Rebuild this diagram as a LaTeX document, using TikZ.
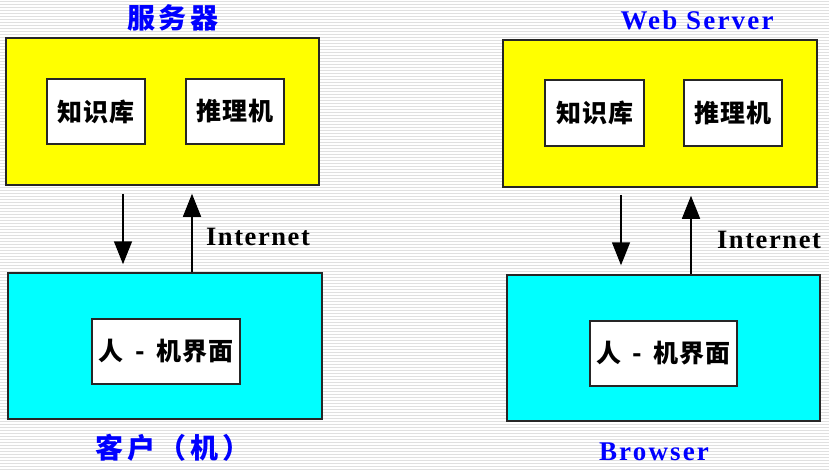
\documentclass[tikz,border=0pt]{standalone}
\usepackage{fontspec}
\setmainfont{Liberation Serif}
\newfontfamily\cjk{Noto Sans CJK SC}
\usetikzlibrary{arrows.meta}
\definecolor{tblue}{RGB}{0,0,255}
\definecolor{tyellow}{RGB}{255,255,0}
\definecolor{tcyan}{RGB}{0,255,255}
\begin{document}
\begin{tikzpicture}[x=1pt,y=-1pt,
  frame/.style={draw=black!85, line width=1.5pt, inner sep=0pt},
  ybox/.style={frame, fill=tyellow},
  cbox/.style={frame, fill=tcyan},
  wbox/.style={frame, fill=white, font=\cjk\bfseries\fontsize{25}{25}\selectfont\addfontfeature{LetterSpace=4}},
  arr/.style={line width=1.5pt, -{Triangle[length=23pt,width=18pt]}},
  cjktitle/.style={text=tblue, font=\cjk\bfseries\fontsize{28}{28}\selectfont\addfontfeature{LetterSpace=14}},
  entitle/.style={text=tblue, font=\bfseries\fontsize{27}{27}\selectfont\addfontfeature{LetterSpace=8}},
  netlabel/.style={text=black, font=\bfseries\fontsize{26.5}{26.5}\selectfont\addfontfeature{LetterSpace=6}}
]
\useasboundingbox (0,0) rectangle (829,469);
\fill[white] (0,0) rectangle (829,469);
\foreach \i in {1,4,...,469} \draw[black!12, line width=1pt] (0,\i) -- (829,\i);

% left: client/server
\node[ybox, minimum width=313pt, minimum height=147pt] (Y1) at (162.5,111.5) {};
\node[wbox, minimum width=98pt, minimum height=65pt] (K1) at (96,111.5) {知识库};
\node[wbox, minimum width=98pt, minimum height=65pt] (R1) at (235,111.5) {推理机};
\node[cbox, minimum width=314pt, minimum height=146pt] (C1) at (165,346) {};
\node[wbox, minimum width=148pt, minimum height=65pt] (H1) at (166,351.5) {人\hspace{0.45em}-\hspace{0.45em}机界面};
\node[cjktitle] (T1) at (173,18) {服务器};
\node[cjktitle] (B1) at (173,448) {客户（机）};
\draw[arr, shorten <=8pt, shorten >=8pt] ([xshift=-39.5pt]Y1.south) -- ([xshift=-42pt]C1.north);
\draw[arr, shorten >=8pt] ([xshift=27pt]C1.north) -- ([xshift=29.5pt]Y1.south);
\node[netlabel] (N1) at (258,237) {Internet};

% right: browser/server
\node[ybox, minimum width=314pt, minimum height=147pt] (Y2) at (660,113.5) {};
\node[wbox, minimum width=99pt, minimum height=66pt] (K2) at (594.5,113) {知识库};
\node[wbox, minimum width=98pt, minimum height=66pt] (R2) at (733,113) {推理机};
\node[cbox, minimum width=313pt, minimum height=146pt] (C2) at (663.5,348) {};
\node[wbox, minimum width=147pt, minimum height=65pt] (H2) at (663.5,353.5) {人\hspace{0.45em}-\hspace{0.45em}机界面};
\node[entitle] (T2) at (697,20) {Web Server};
\node[entitle] (B2) at (654,452) {Browser};
\draw[arr, shorten <=7pt, shorten >=9pt] ([xshift=-39pt]Y2.south) -- ([xshift=-42.5pt]C2.north);
\draw[arr, shorten >=8pt] ([xshift=27.5pt]C2.north) -- ([xshift=31pt]Y2.south);
\node[netlabel] (N2) at (769,240) {Internet};
\end{tikzpicture}
\end{document}
